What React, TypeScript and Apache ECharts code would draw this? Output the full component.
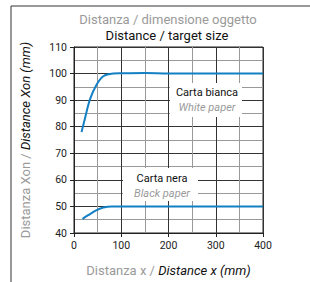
import React, { useEffect, useRef } from "react";
import * as echarts from "echarts";

const whiteX = [16, 23, 34, 48, 62, 83, 100, 150, 200, 250, 300, 350, 400];
const whiteY = [78, 83, 90.4, 95.9, 99, 100, 100.1, 100.2, 100, 100, 100, 100, 100];
const blackX = [18, 30, 48, 62, 80, 100, 150, 200, 250, 300, 350, 400];
const blackY = [45.3, 46.7, 48.6, 49.6, 50, 50, 50, 50, 50, 50, 50, 50];

const FONT = "Roboto, 'Liberation Sans', Arial, sans-serif";
const BLUE = "#1380c4";
const GRAY = "#9a9a9a";

export default function App() {
  const ref = useRef<HTMLDivElement>(null);
  useEffect(() => {
    const chart = echarts.init(ref.current!, null, { renderer: "svg" });
    const zip = (xs: number[], ys: number[]) => xs.map((x, i) => [x, ys[i]]);
    chart.setOption({
      animation: false,
      backgroundColor: "#fff",
      textStyle: { fontFamily: FONT },
      grid: { left: 74, right: 47, top: 47, bottom: 46, show: true, borderColor: "#222", borderWidth: 1, backgroundColor: "transparent" },
      xAxis: {
        type: "value", min: 0, max: 400, interval: 100,
        axisLine: { show: true, lineStyle: { color: "#222", width: 1 } },
        axisTick: { show: true, length: 4, lineStyle: { color: "#222" } },
        axisLabel: { fontFamily: FONT, fontSize: 10.5, color: "#222", margin: 7 },
        splitLine: { show: true, lineStyle: { color: "#333", width: 1 } },
        minorTick: { show: false, splitNumber: 2 },
        minorSplitLine: { show: true, lineStyle: { color: "#999", width: 1 } },
        name: "{a|Distanza x / }{b|Distance x (mm)}",
        nameLocation: "middle", nameGap: 31,
        nameTextStyle: {
          rich: {
            a: { fontFamily: FONT, fontSize: 13, color: GRAY },
            b: { fontFamily: FONT, fontSize: 13, color: "#111", fontStyle: "italic" },
          },
        },
      },
      yAxis: {
        type: "value", min: 40, max: 110, interval: 10,
        axisLine: { show: true, lineStyle: { color: "#222", width: 1 } },
        axisTick: { show: true, length: 4, lineStyle: { color: "#222" } },
        axisLabel: { fontFamily: FONT, fontSize: 10.5, color: "#222", margin: 7 },
        splitLine: { show: true, lineStyle: { color: "#333", width: 1 } },
        minorTick: { show: false, splitNumber: 2 },
        minorSplitLine: { show: true, lineStyle: { color: "#999", width: 1 } },
        name: "{a|Distanza Xon / }{b|Distance Xon (mm)}",
        nameLocation: "middle", nameGap: 42, nameRotate: 90,
        nameTextStyle: {
          rich: {
            a: { fontFamily: FONT, fontSize: 13, color: GRAY },
            b: { fontFamily: FONT, fontSize: 13, color: "#111", fontStyle: "italic" },
          },
        },
      },
      series: [
        { type: "line", data: zip(whiteX, whiteY), smooth: 0.35, showSymbol: false, lineStyle: { color: BLUE, width: 2 }, z: 3 },
        { type: "line", data: zip(blackX, blackY), smooth: 0.35, showSymbol: false, lineStyle: { color: BLUE, width: 2 }, z: 3 },
      ],
      graphic: [
        { type: "line", shape: { x1: 11, y1: 6, x2: 310, y2: 6 }, style: { stroke: "#333", lineWidth: 1 } },
        { type: "line", shape: { x1: 11, y1: 6, x2: 11, y2: 282 }, style: { stroke: "#333", lineWidth: 1 } },
        { type: "text", x: 168, y: 19, style: { text: "Distanza / dimensione oggetto", font: `13px ${FONT}`, fill: GRAY, textAlign: "center", textVerticalAlign: "middle" } },
        { type: "text", x: 167, y: 35, style: { text: "Distance / target size", font: `13px ${FONT}`, fill: "#111", textAlign: "center", textVerticalAlign: "middle" } },
        { type: "rect", shape: { x: 170, y: 83, width: 72, height: 34 }, style: { fill: "#fff" }, z: 10 },
        { type: "text", x: 207, y: 92.5, z: 11, style: { text: "Carta bianca", font: `11px ${FONT}`, fill: "#111", textAlign: "center", textVerticalAlign: "middle" } },
        { type: "text", x: 207, y: 107.5, z: 11, style: { text: "White paper", font: `italic 11px ${FONT}`, fill: GRAY, textAlign: "center", textVerticalAlign: "middle" } },
        { type: "rect", shape: { x: 123, y: 168, width: 75, height: 33 }, style: { fill: "#fff" }, z: 10 },
        { type: "text", x: 162, y: 178, z: 11, style: { text: "Carta nera", font: `11px ${FONT}`, fill: "#111", textAlign: "center", textVerticalAlign: "middle" } },
        { type: "text", x: 162, y: 193, z: 11, style: { text: "Black paper", font: `italic 11px ${FONT}`, fill: GRAY, textAlign: "center", textVerticalAlign: "middle" } },
      ],
    });
    return () => chart.dispose();
  }, []);
  return <div ref={ref} style={{ position: "fixed", left: 0, top: 0, width: 310, height: 282 }} />;
}
